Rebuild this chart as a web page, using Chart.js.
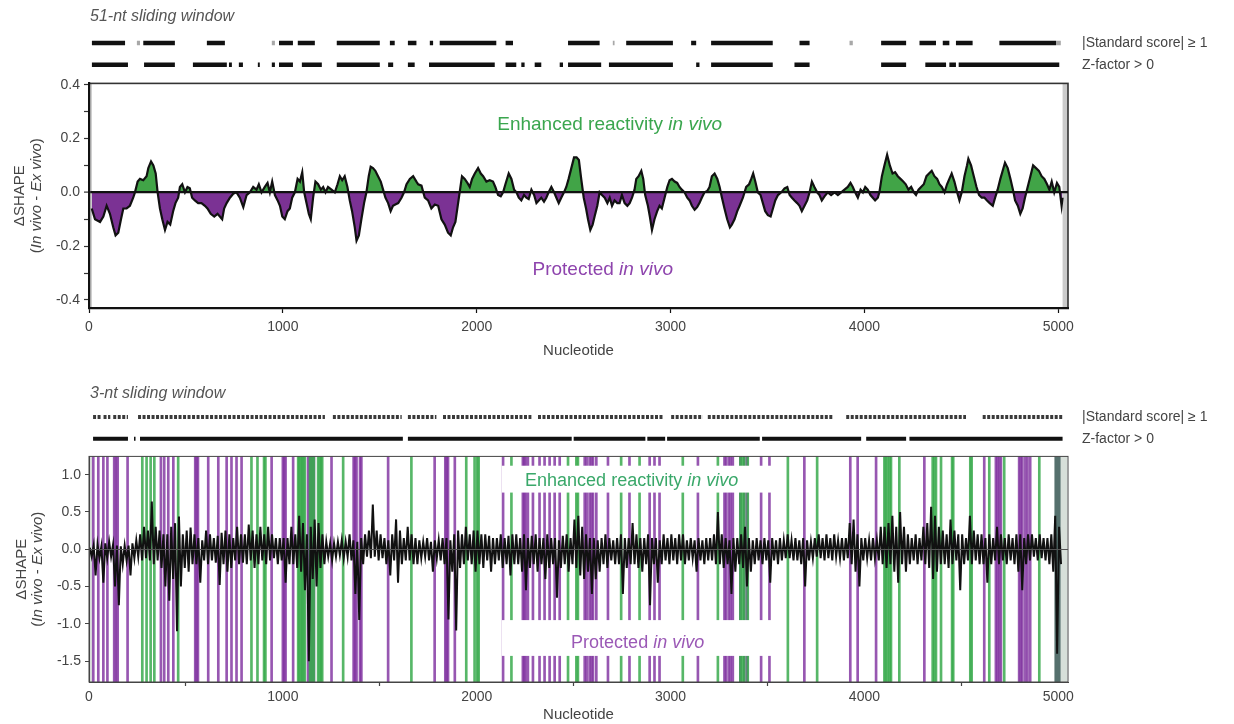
<!DOCTYPE html>
<html>
<head>
<meta charset="utf-8">
<script src="https://cdn.jsdelivr.net/npm/chart.js@4.4.1/dist/chart.umd.min.js"></script>
<style>
  html, body { margin: 0; padding: 0; background: #fff; }
  #wrap { position: relative; width: 1234px; height: 724px; overflow: hidden; }
  .pane { position: absolute; left: 0; width: 1234px; }
</style>
</head>
<body>
<div id="wrap">
  <div class="pane" style="top:0;height:84px"><canvas id="strip51"></canvas></div>
  <div class="pane" style="top:71px;height:295px"><canvas id="main51"></canvas></div>
  <div class="pane" style="top:380px;height:78px"><canvas id="strip3"></canvas></div>
  <div class="pane" style="top:444px;height:280px"><canvas id="main3"></canvas></div>
</div>
<script>
// ---------------------------------------------------------------- data
const ntMax = 5050;
const xTickValues = [0, 1000, 2000, 3000, 4000, 5000];
const xTickLabels = ['0', '1000', '2000', '3000', '4000', '5000'];

// 51-nt sliding window: [nucleotide, ΔSHAPE]
const window51 = [
  [14,-0.06],[31,-0.10],[57,-0.11],[74,-0.09],[91,-0.05],[108,-0.08],[125,-0.13],[137,-0.16],[151,-0.15],[165,-0.10],
  [177,-0.06],[194,-0.06],[211,-0.05],[228,-0.02],[237,0.0],[251,0.04],[263,0.05],[280,0.045],[297,0.06],[306,0.09],
  [320,0.115],[332,0.10],[344,0.07],[354,0.0],[366,-0.06],[378,-0.10],[392,-0.14],[405,-0.11],[419,-0.12],[434,-0.07],
  [446,-0.04],[460,-0.02],[469,0.02],[481,0.03],[495,0.0],[508,0.02],[520,0.015],[532,-0.02],[546,-0.03],[563,-0.04],
  [580,-0.04],[598,-0.05],[611,-0.06],[628,-0.08],[646,-0.09],[663,-0.08],[675,-0.09],[687,-0.10],[697,-0.06],[710,-0.04],
  [727,-0.02],[744,-0.005],[761,0.0],[778,-0.02],[796,-0.055],[813,-0.01],[830,0.0],[847,0.02],[864,0.01],[876,0.03],
  [890,0.0],[907,0.02],[921,0.035],[933,0.0],[945,0.04],[959,-0.01],[973,-0.03],[985,-0.05],[997,-0.09],[1010,-0.10],
  [1024,-0.07],[1036,-0.06],[1048,-0.02],[1062,0.0],[1076,0.05],[1088,0.04],[1100,0.075],[1110,0.0],[1122,-0.04],[1134,-0.08],
  [1144,-0.10],[1156,-0.02],[1168,0.04],[1182,0.03],[1196,0.01],[1208,0.02],[1220,0.0],[1233,0.02],[1251,0.01],[1268,0.0],
  [1282,0.03],[1294,0.06],[1306,0.045],[1319,0.06],[1333,0.02],[1345,-0.03],[1357,-0.07],[1371,-0.13],[1380,-0.18],[1392,-0.16],
  [1405,-0.10],[1419,-0.04],[1431,0.0],[1443,0.06],[1453,0.095],[1465,0.09],[1477,0.08],[1491,0.06],[1505,0.04],[1517,0.01],
  [1529,-0.02],[1543,-0.04],[1556,-0.07],[1568,-0.05],[1580,-0.045],[1595,-0.04],[1612,-0.02],[1625,0.0],[1638,0.03],[1655,0.05],
  [1672,0.06],[1689,0.04],[1698,0.03],[1715,0.025],[1732,-0.02],[1749,-0.03],[1766,-0.06],[1784,-0.045],[1801,-0.05],[1818,-0.10],
  [1835,-0.12],[1852,-0.15],[1866,-0.16],[1878,-0.13],[1890,-0.11],[1904,-0.04],[1916,0.02],[1924,0.06],[1938,0.05],[1952,0.035],
  [1964,0.02],[1976,0.05],[1990,0.07],[2007,0.09],[2021,0.07],[2033,0.06],[2050,0.04],[2067,0.045],[2084,0.04],[2096,0.02],
  [2110,-0.01],[2124,-0.015],[2136,0.0],[2148,0.03],[2165,0.07],[2179,0.05],[2193,0.01],[2205,0.0],[2217,-0.02],[2230,-0.03],
  [2244,-0.01],[2256,-0.02],[2268,-0.025],[2282,0.01],[2296,-0.01],[2308,-0.04],[2320,-0.03],[2333,-0.02],[2347,-0.035],[2359,-0.02],
  [2371,0.0],[2385,0.02],[2399,0.0],[2411,-0.02],[2423,-0.04],[2436,-0.02],[2450,0.0],[2462,0.02],[2474,0.05],[2488,0.09],
  [2502,0.13],[2515,0.13],[2527,0.12],[2539,0.05],[2552,-0.02],[2564,-0.06],[2574,-0.10],[2586,-0.14],[2598,-0.12],[2608,-0.09],
  [2622,-0.05],[2634,0.0],[2646,-0.01],[2660,-0.02],[2674,-0.04],[2686,-0.02],[2698,-0.05],[2711,-0.03],[2725,-0.04],[2737,-0.04],
  [2749,-0.01],[2763,-0.04],[2777,-0.05],[2789,-0.04],[2801,-0.02],[2814,0.01],[2823,0.05],[2835,0.06],[2849,0.08],[2859,0.05],
  [2869,-0.01],[2883,-0.05],[2893,-0.09],[2904,-0.14],[2917,-0.10],[2931,-0.07],[2943,-0.05],[2955,-0.06],[2969,-0.02],[2983,0.02],
  [2995,0.045],[3007,0.05],[3021,0.04],[3034,0.035],[3046,0.02],[3058,0.01],[3072,0.0],[3086,-0.02],[3098,-0.03],[3110,-0.05],
  [3124,-0.065],[3137,-0.055],[3149,-0.04],[3161,-0.02],[3175,0.0],[3189,0.005],[3201,0.02],[3213,0.06],[3227,0.07],[3241,0.05],
  [3253,0.02],[3265,-0.02],[3278,-0.06],[3292,-0.10],[3306,-0.13],[3316,-0.12],[3330,-0.10],[3344,-0.07],[3356,-0.05],[3373,-0.02],
  [3390,0.02],[3405,0.03],[3416,0.05],[3426,0.07],[3437,0.04],[3450,0.0],[3464,-0.01],[3476,-0.04],[3488,-0.07],[3502,-0.085],
  [3516,-0.09],[3528,-0.06],[3540,-0.03],[3554,-0.01],[3571,0.0],[3588,0.015],[3602,0.02],[3614,-0.01],[3626,-0.02],[3639,-0.03],
  [3653,-0.04],[3665,-0.05],[3677,-0.07],[3691,-0.05],[3705,-0.03],[3717,0.0],[3729,0.04],[3742,0.02],[3756,0.0],[3768,-0.01],
  [3780,-0.03],[3794,-0.015],[3811,0.0],[3828,-0.01],[3846,0.0],[3863,-0.01],[3880,0.0],[3897,0.01],[3914,0.02],[3928,0.035],
  [3940,0.02],[3952,0.0],[3966,-0.02],[3980,0.01],[3992,0.0],[4004,0.02],[4017,0.01],[4031,-0.01],[4043,-0.02],[4055,-0.03],
  [4069,-0.02],[4077,0.0],[4090,0.06],[4103,0.10],[4117,0.14],[4131,0.10],[4145,0.07],[4158,0.075],[4172,0.06],[4186,0.05],
  [4200,0.04],[4213,0.03],[4227,0.01],[4241,0.02],[4255,0.0],[4266,-0.01],[4279,0.01],[4292,0.02],[4306,0.03],[4320,0.06],
  [4333,0.07],[4347,0.08],[4361,0.06],[4375,0.05],[4387,0.03],[4399,0.02],[4413,0.0],[4426,0.03],[4438,0.05],[4450,0.07],
  [4464,0.04],[4478,0.0],[4490,-0.03],[4502,0.0],[4516,0.06],[4529,0.10],[4536,0.125],[4550,0.10],[4564,0.06],[4578,0.02],
  [4591,-0.01],[4605,-0.02],[4619,-0.02],[4632,-0.03],[4646,-0.04],[4662,-0.05],[4674,-0.02],[4687,0.01],[4701,0.05],[4713,0.08],
  [4725,0.11],[4739,0.09],[4753,0.05],[4766,0.01],[4777,-0.03],[4791,-0.05],[4804,-0.08],[4816,-0.06],[4828,-0.02],[4842,0.02],
  [4856,0.06],[4870,0.10],[4885,0.09],[4900,0.08],[4914,0.06],[4928,0.05],[4942,0.03],[4954,0.01],[4966,0.04],[4979,0.0],
  [4993,0.035],[5005,0.02],[5017,-0.05],[5022,-0.02]
];
const yTicks51 = [-0.4, -0.3, -0.2, -0.1, 0, 0.1, 0.2, 0.3, 0.4];
const yLabels51 = ['-0.4', '', '-0.2', '', '0.0', '', '0.2', '', '0.4'];

// 3-nt sliding window, summarised per 20-nt bin as the upper and lower excursion
const binSize3 = 20;
const win3Hi = [
  0.02,0.05,0.06,0.04,0.08,0.10,0.06,0.05,0.04,0.05,
  0.05,0.08,0.12,0.20,0.30,0.25,0.64,0.30,0.25,0.20,
  0.20,0.30,0.35,0.44,0.20,0.25,0.29,0.20,0.15,0.12,
  0.25,0.20,0.15,0.18,0.22,0.25,0.20,0.15,0.30,0.20,
  0.20,0.33,0.25,0.20,0.30,0.20,0.30,0.20,0.15,0.15,
  0.15,0.15,0.30,0.20,0.45,0.35,0.20,0.30,0.40,0.35,
  0.20,0.10,0.08,0.08,0.10,0.12,0.10,0.20,0.12,0.10,
  0.15,0.20,0.25,0.60,0.25,0.20,0.15,0.12,0.20,0.40,
  0.25,0.15,0.30,0.20,0.15,0.12,0.10,0.15,0.10,0.12,
  0.12,0.15,0.15,0.12,0.20,0.25,0.20,0.30,0.20,0.25,
  0.25,0.20,0.20,0.18,0.15,0.15,0.20,0.15,0.18,0.20,
  0.20,0.15,0.20,0.15,0.18,0.20,0.15,0.15,0.20,0.15,
  0.15,0.12,0.18,0.20,0.15,0.40,0.45,0.30,0.20,0.15,
  0.15,0.12,0.15,0.20,0.15,0.12,0.15,0.20,0.15,0.15,
  0.35,0.20,0.15,0.15,0.20,0.15,0.15,0.12,0.20,0.15,
  0.20,0.15,0.20,0.20,0.12,0.15,0.12,0.15,0.12,0.15,
  0.15,0.20,0.50,0.20,0.15,0.12,0.15,0.15,0.20,0.30,
  0.15,0.12,0.15,0.12,0.15,0.12,0.15,0.12,0.15,0.12,
  0.20,0.12,0.15,0.12,0.15,0.12,0.10,0.15,0.20,0.15,
  0.20,0.15,0.20,0.12,0.15,0.15,0.35,0.40,0.20,0.15,
  0.15,0.12,0.15,0.12,0.30,0.30,0.35,0.45,0.30,0.50,
  0.30,0.20,0.15,0.20,0.15,0.30,0.35,0.57,0.45,0.30,
  0.25,0.20,0.40,0.25,0.20,0.20,0.15,0.45,0.25,0.20,
  0.20,0.15,0.20,0.15,0.30,0.20,0.15,0.20,0.15,0.20,
  0.20,0.15,0.20,0.20,0.15,0.20,0.15,0.15,0.20,0.45,0.30
];
const win3Lo = [
  -0.10,-0.35,-0.12,-0.45,-0.12,-0.10,-0.50,-0.75,-0.20,-0.15,
  -0.35,-0.12,-0.10,-0.15,-0.12,-0.15,-0.20,-0.15,-0.25,-0.50,
  -0.69,-0.40,-1.10,-0.50,-0.25,-0.30,-0.20,-0.20,-0.45,-0.15,
  -0.20,-0.15,-0.18,-0.48,-0.20,-0.30,-0.25,-0.15,-0.20,-0.18,
  -0.20,-0.15,-0.25,-0.20,-0.15,-0.20,-0.15,-0.12,-0.20,-0.15,
  -0.45,-0.20,-0.20,-0.25,-0.30,-0.55,-1.50,-0.40,-0.50,-0.25,
  -0.20,-0.10,-0.15,-0.10,-0.08,-0.12,-0.10,-0.15,-0.60,-0.95,
  -0.20,-0.10,-0.12,-0.10,-0.15,-0.12,-0.20,-0.35,-0.15,-0.45,
  -0.20,-0.15,-0.15,-0.20,-0.20,-0.12,-0.10,-0.15,-0.30,-0.12,
  -0.15,-0.20,-0.94,-0.30,-1.09,-0.25,-0.20,-0.15,-0.20,-0.30,
  -0.20,-0.25,-0.15,-0.30,-0.20,-0.15,-0.25,-0.20,-0.35,-0.20,
  -0.20,-0.30,-0.55,-0.25,-0.20,-0.30,-0.20,-0.40,-0.25,-0.20,
  -0.65,-0.25,-0.20,-0.30,-0.20,-0.25,-0.35,-0.40,-0.30,-0.60,
  -0.40,-0.30,-0.20,-0.25,-0.15,-0.20,-0.20,-0.60,-0.25,-0.20,
  -0.20,-0.25,-0.30,-0.20,-0.75,-0.20,-0.45,-0.20,-0.15,-0.20,
  -0.15,-0.20,-0.15,-0.20,-0.15,-0.12,-0.30,-0.15,-0.20,-0.15,
  -0.15,-0.20,-0.20,-0.25,-0.20,-0.60,-0.30,-0.20,-0.25,-0.50,
  -0.30,-0.20,-0.15,-0.20,-0.15,-0.45,-0.15,-0.20,-0.15,-0.12,
  -0.12,-0.15,-0.15,-0.20,-0.50,-0.15,-0.12,-0.10,-0.12,-0.15,
  -0.12,-0.15,-0.10,-0.12,-0.15,-0.12,-0.20,-0.30,-0.50,-0.15,
  -0.12,-0.15,-0.12,-0.15,-0.20,-0.25,-0.20,-0.30,-0.45,-0.20,
  -0.30,-0.20,-0.15,-0.20,-0.15,-0.20,-0.25,-0.40,-0.30,-0.20,
  -0.20,-0.25,-0.20,-0.15,-0.55,-0.20,-0.15,-0.20,-0.15,-0.20,
  -0.20,-0.45,-0.20,-0.15,-0.20,-0.15,-0.20,-0.15,-0.20,-0.30,
  -0.55,-0.20,-0.15,-0.10,-0.15,-0.12,-0.15,-0.20,-0.30,-1.40,-0.20
];
const yTicks3 = [-1.5, -1.0, -0.5, 0, 0.5, 1.0];
const yLabels3 = ['-1.5', '-1.0', '-0.5', '0.0', '0.5', '1.0'];

// nucleotides called protected / enhanced in vivo (3-nt window)
const protectedSites = [22,48,74,95,130,139,148,199,371,388,409,435,548,555,562,615,667,710,735,761,787,942,1000,1007,1014,1053,
  1130,1140,1150,1160,1251,1365,1372,1380,1398,1405,1543,1783,1838,1845,1852,1887,2136,2238,2245,2252,2264,2290,2324,2350,2376,
  2402,2428,2557,2567,2582,2592,2600,2617,2677,2788,2892,2917,2943,3141,3278,3286,3300,3310,3321,3360,3380,3395,3467,3510,3690,
  3927,3965,4060,4309,4618,4678,4686,4695,4704,4798,4806,4815,4830,4841,4855];
const enhancedSites = [275,297,318,337,460,838,869,903,910,1079,1085,1092,1100,1106,1113,1140,1150,1160,1182,1190,1197,1203,
  1311,1663,1946,1989,2003,2010,2179,2471,2514,2522,2745,2840,3063,3244,3360,3370,3380,3398,3605,3756,4103,4110,4120,4130,
  4137,4180,4352,4360,4369,4395,4452,4458,4546,4553,4644,4721,4902];

// significance strips: [start, end] nucleotide ranges
const stripLabels = ['Z-factor > 0', '|Standard score| \u2265 1'];
const std51 = [[15,186],[280,443],[608,701],[980,1052],[1077,1165],[1278,1500],[1552,1577],[1645,1689],[1758,1775],[1809,2101],
  [2149,2187],[2471,2634],[2771,3012],[3106,3132],[3209,3527],[3665,3717],[4086,4215],[4284,4369],[4404,4438],[4472,4558],[4696,4988]];
const std51Weak = [[247,263],[943,959],[2702,2711],[3923,3940],[4988,5013]];
const zf51 = [[15,201],[284,443],[536,711],[722,737],[773,794],[871,881],[943,959],[980,1052],[1098,1201],[1278,1500],[1543,1569],
  [1645,1680],[1754,2093],[2149,2204],[2230,2247],[2299,2333],[2428,2445],[2471,2642],[2682,3012],[3132,3149],[3209,3527],
  [3639,3717],[4086,4215],[4314,4421],[4438,4472],[4486,5005]];
const std3 = [[21,60],[75,110],[125,201],[253,1217],[1258,1613],[1645,1792],[1826,2282],[2316,2960],[3003,3166],[3192,3837],
  [3906,4524],[4610,5022]];
const zf3 = [[21,201],[232,240],[263,1619],[1645,2490],[2500,2870],[2880,2972],[2982,3460],[3472,3983],[4009,4215],[4232,5022]];

// shaded end regions
const shade51 = [[0,15],[5022,5050]];
const shade3Light = [[0,15],[5012,5046]];
const shade3Dark = [[4980,5012]];

// ---------------------------------------------------------------- styles
const FONT = "'Liberation Sans', Arial, Helvetica, sans-serif";
const TXT = '#444';
const GREEN_FILL = '#41a447';
const PURPLE_FILL = '#7b3294';
const GREEN_BAR = 'rgba(58,170,78,0.85)';
const PURPLE_BAR = 'rgba(128,50,160,0.82)';
const Y51_MIN = -0.43, Y51_MAX = 0.405;
const Y3_MIN = -1.78, Y3_MAX = 1.245;

Chart.defaults.font.family = FONT;
Chart.defaults.color = TXT;

function drawRuns(ctx, runs, cx, cy, size, color) {
  const fonts = runs.map(r => (r[1] ? 'italic ' : '') + size + 'px ' + FONT);
  const widths = runs.map((r, i) => { ctx.font = fonts[i]; return ctx.measureText(r[0]).width; });
  let x = cx - widths.reduce((a, b) => a + b, 0) / 2;
  ctx.fillStyle = color;
  ctx.textAlign = 'left';
  ctx.textBaseline = 'middle';
  runs.forEach((r, i) => { ctx.font = fonts[i]; ctx.fillText(r[0], x, cy); x += widths[i]; });
}

const decoPlugin = {
  id: 'deco',
  beforeDatasetsDraw(chart, args, opts) {
    const { ctx, chartArea: a, scales: { x } } = chart;
    ctx.save();
    (opts.shades || []).forEach(s => {
      ctx.fillStyle = s.color;
      s.ranges.forEach(([r0, r1]) => {
        const p0 = x.getPixelForValue(r0), p1 = x.getPixelForValue(r1);
        ctx.fillRect(p0, a.top, p1 - p0, a.bottom - a.top);
      });
    });
    ctx.restore();
  },
  afterDatasetsDraw(chart, args, opts) {
    const { ctx, chartArea: a, scales: { x, y } } = chart;
    ctx.save();
    (opts.labels || []).forEach(l => {
      if (l.box) {
        const bx0 = x.getPixelForValue(l.box[0]), bx1 = x.getPixelForValue(l.box[1]);
        const by0 = y.getPixelForValue(l.box[2]), by1 = y.getPixelForValue(l.box[3]);
        ctx.fillStyle = '#fff';
        ctx.fillRect(bx0, by0, bx1 - bx0, by1 - by0);
      }
      drawRuns(ctx, l.runs, x.getPixelForValue(l.x), y.getPixelForValue(l.y), l.size, l.color);
    });
    if (opts.frame) {
      ctx.strokeStyle = opts.frame.color;
      ctx.lineWidth = opts.frame.width;
      ctx.strokeRect(a.left, a.top, a.right - a.left, a.bottom - a.top);
    }
    ctx.restore();
  },
  afterDraw(chart, args, opts) {
    const { ctx, chartArea: a } = chart;
    if (opts.yTitle) {
      const t = opts.yTitle;
      const cy = (a.top + a.bottom) / 2;
      t.lines.forEach((line, i) => {
        ctx.save();
        ctx.translate(t.xs[i], cy);
        ctx.rotate(-Math.PI / 2);
        drawRuns(ctx, line, 0, 0, t.size, t.color);
        ctx.restore();
      });
    }
    if (opts.panelTitle) {
      const p = opts.panelTitle;
      ctx.save();
      ctx.font = 'italic ' + p.size + 'px ' + FONT;
      ctx.fillStyle = p.color;
      ctx.textAlign = 'left';
      ctx.textBaseline = 'middle';
      ctx.fillText(p.text, p.x, p.y);
      ctx.restore();
    }
  }
};

const yTitleLines = [
  [['\u0394SHAPE', false]],
  [['(', false], ['In vivo', true], [' - ', false], ['Ex vivo', true], [')', false]]
];

function segmentData(segs, row) {
  const out = [];
  segs.forEach(([s, e]) => { out.push({ x: s, y: row }, { x: e, y: row }, { x: e, y: null }); });
  return out;
}

function stripChart(id, rows, padTop, title) {
  return new Chart(document.getElementById(id), {
    type: 'line',
    data: {
      datasets: rows.map(r => ({
        data: segmentData(r.segs, r.row),
        borderColor: r.color, borderWidth: r.width, borderCapStyle: 'butt', borderDash: r.dash || [],
        pointRadius: 0, spanGaps: false, fill: false, tension: 0
      }))
    },
    options: {
      responsive: true, maintainAspectRatio: false, animation: false, events: [],
      layout: { padding: { left: 89, top: padTop, bottom: 0, right: 0 } },
      plugins: { legend: { display: false }, tooltip: { enabled: false },
        deco: { panelTitle: { text: title.text, x: 90, y: title.y, size: 16, color: '#555' } } },
      scales: {
        x: { type: 'linear', min: 0, max: ntMax, display: false },
        y: {
          type: 'linear', position: 'right', min: -0.5, max: 1.5,
          afterBuildTicks: s => { s.ticks = [{ value: 0 }, { value: 1 }]; },
          afterFit: s => { s.width = 166; },
          ticks: { callback: v => stripLabels[v], padding: 0, color: TXT, font: { size: 14 } },
          grid: { display: true, drawOnChartArea: false, drawTicks: true, tickLength: 14, tickColor: 'rgba(0,0,0,0)' },
          border: { display: false }
        }
      }
    },
    plugins: [decoPlugin]
  });
}

function xScale(opts) {
  return {
    type: 'linear', min: 0, max: ntMax, offset: false,
    afterBuildTicks: s => { s.ticks = xTickValues.map(v => ({ value: v })); },
    afterFit: s => { s.height = opts.height; },
    ticks: { callback: (v, i) => xTickLabels[i], color: TXT, font: { size: 14 }, padding: opts.tickPad, maxRotation: 0, autoSkip: false },
    grid: { drawOnChartArea: false, drawTicks: true, tickLength: opts.tickLen, tickColor: opts.axisColor, tickWidth: 1.2 },
    border: { display: true, color: opts.axisColor, width: opts.axisWidth, z: 1 },
    title: { display: true, text: 'Nucleotide', color: TXT, font: { size: 15 }, padding: { top: 0, bottom: opts.titlePad } }
  };
}

// ---------------------------------------------------------------- 51-nt panel
stripChart('strip51', [
  { segs: std51, row: 1, color: '#111', width: 4.5 },
  { segs: std51Weak, row: 1, color: '#a8a8a8', width: 4.5 },
  { segs: zf51, row: 0, color: '#111', width: 4.5 }
], 32, { text: '51-nt sliding window', y: 17 });

new Chart(document.getElementById('main51'), {
  type: 'line',
  data: {
    datasets: [{
      data: window51.map(([x, y]) => ({ x, y })),
      borderColor: '#111', borderWidth: 2.2, pointRadius: 0, tension: 0,
      fill: { target: { value: 0 }, above: GREEN_FILL, below: PURPLE_FILL }
    }]
  },
  options: {
    responsive: true, maintainAspectRatio: false, animation: false, events: [],
    layout: { padding: { top: 0, right: 166, left: 0, bottom: 0 } },
    plugins: {
      legend: { display: false }, tooltip: { enabled: false },
      deco: {
        shades: [{ color: '#cbcbcb', ranges: shade51 }],
        labels: [
          { runs: [['Enhanced reactivity ', false], ['in vivo', true]], x: 2686, y: 0.253, size: 19, color: '#3aa64e' },
          { runs: [['Protected ', false], ['in vivo', true]], x: 2650, y: -0.287, size: 19, color: '#8e44ad' }
        ],
        frame: { color: '#333', width: 1.6 },
        yTitle: { lines: yTitleLines, xs: [20, 37], size: 15, color: TXT }
      }
    },
    scales: {
      x: xScale({ height: 58, tickPad: 6, tickLen: 5, axisColor: '#111', axisWidth: 2.2, titlePad: 6 }),
      y: {
        type: 'linear', min: Y51_MIN, max: Y51_MAX,
        afterBuildTicks: s => { s.ticks = yTicks51.map(v => ({ value: v })); },
        afterFit: s => { s.width = 89; },
        ticks: { callback: (v, i) => yLabels51[i], color: TXT, font: { size: 14 }, padding: 4 },
        grid: {
          z: 1, drawTicks: true, tickLength: 5, tickColor: '#333', tickWidth: 1.2,
          color: c => (c.tick && c.tick.value === 0) ? '#111' : 'rgba(0,0,0,0)',
          lineWidth: c => (c.tick && c.tick.value === 0) ? 2.2 : 1
        },
        border: { color: '#111', width: 2.2, z: 1 }
      }
    }
  },
  plugins: [decoPlugin]
});

// ---------------------------------------------------------------- 3-nt panel
stripChart('strip3', [
  { segs: std3, row: 1, color: '#3a3a3a', width: 4, dash: [3, 1.5] },
  { segs: zf3, row: 0, color: '#111', width: 4 }
], 26, { text: '3-nt sliding window', y: 14 });

const trace3 = [];
win3Hi.forEach((h, i) => {
  trace3.push({ x: i * binSize3 + 4, y: h });
  trace3.push({ x: i * binSize3 + 14, y: win3Lo[i] });
});

new Chart(document.getElementById('main3'), {
  type: 'line',
  data: {
    datasets: [
      {
        data: trace3, borderColor: '#111', borderWidth: 2, pointRadius: 0, tension: 0, fill: false, order: 0
      },
      {
        type: 'bar', data: enhancedSites.map(s => ({ x: s, y: [Y3_MIN, Y3_MAX] })),
        backgroundColor: GREEN_BAR, borderWidth: 0, barThickness: 2, grouped: false, order: 1
      },
      {
        type: 'bar', data: protectedSites.map(s => ({ x: s, y: [Y3_MIN, Y3_MAX] })),
        backgroundColor: PURPLE_BAR, borderWidth: 0, barThickness: 2, grouped: false, order: 2
      }
    ]
  },
  options: {
    responsive: true, maintainAspectRatio: false, animation: false, events: [],
    layout: { padding: { top: 0, right: 166, left: 0, bottom: 0 } },
    plugins: {
      legend: { display: false }, tooltip: { enabled: false },
      deco: {
        shades: [{ color: '#d7dfd9', ranges: shade3Light }, { color: '#55706d', ranges: shade3Dark }],
        labels: [
          { runs: [['Enhanced reactivity ', false], ['in vivo', true]], x: 2799, y: 0.92, size: 18, color: '#3aa86a',
            box: [2129, 3536, 1.12, 0.76] },
          { runs: [['Protected ', false], ['in vivo', true]], x: 2830, y: -1.26, size: 18, color: '#9b59b6',
            box: [2129, 3536, -0.95, -1.43] }
        ],
        frame: { color: '#444', width: 1 },
        yTitle: { lines: yTitleLines, xs: [22, 38], size: 15, color: TXT }
      }
    },
    scales: {
      x: xScale({ height: 42, tickPad: 3, tickLen: 4, axisColor: '#444', axisWidth: 1, titlePad: 0 }),
      y: {
        type: 'linear', min: Y3_MIN, max: Y3_MAX,
        afterBuildTicks: s => { s.ticks = yTicks3.map(v => ({ value: v })); },
        afterFit: s => { s.width = 89; },
        ticks: { callback: (v, i) => yLabels3[i], color: TXT, font: { size: 14 }, padding: 4 },
        grid: {
          z: 1, drawTicks: true, tickLength: 4, tickColor: '#444', tickWidth: 1,
          color: c => (c.tick && c.tick.value === 0) ? '#555' : 'rgba(0,0,0,0)',
          lineWidth: 1
        },
        border: { color: '#444', width: 1, z: 1 }
      }
    }
  },
  plugins: [decoPlugin]
});
</script>
</body>
</html>
